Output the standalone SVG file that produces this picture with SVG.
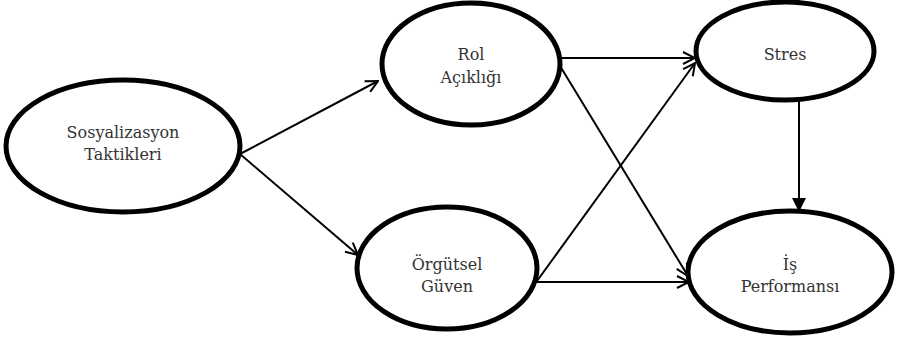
<svg xmlns="http://www.w3.org/2000/svg" width="897" height="340" viewBox="0 0 897 340">
<defs>
<style>
.node ellipse{fill:#fff;stroke:#000;stroke-width:5}
.node text{font-family:"DejaVu Serif","Liberation Serif",serif;font-size:16px;fill:#333;text-anchor:middle}
.edges line{stroke:#000;stroke-width:2;fill:none}
.open{marker-end:url(#openArrow)}
.filled{marker-end:url(#fillArrow)}
</style>
<marker id="openArrow" viewBox="0 0 14 14" refX="13" refY="7" markerWidth="14" markerHeight="14" markerUnits="userSpaceOnUse" orient="auto">
<path d="M1,1 L13,7 L1,13" fill="none" stroke="#000" stroke-width="2"/>
</marker>
<marker id="fillArrow" viewBox="0 0 14 14" refX="13" refY="7" markerWidth="14" markerHeight="14" markerUnits="userSpaceOnUse" orient="auto">
<path d="M0,0 L14,7 L0,14 Z" fill="#000"/>
</marker>
</defs>
<rect width="897" height="340" fill="#fff"/>
<g class="edges">
<line class="open" x1="240" y1="154" x2="378" y2="81"/>
<line class="open" x1="240" y1="154" x2="358" y2="255"/>
<line class="open" x1="558" y1="58" x2="695" y2="58"/>
<line class="open" x1="557" y1="61" x2="688" y2="276"/>
<line class="open" x1="537" y1="281" x2="695" y2="63"/>
<line class="open" x1="537" y1="282" x2="689" y2="282"/>
<line class="filled" x1="799" y1="100" x2="799" y2="211"/>
</g>
<g id="sosyalizasyon" class="node">
<ellipse cx="123" cy="146" rx="117" ry="66"/>
<text x="123" y="138">Sosyalizasyon</text>
<text x="123" y="160">Taktikleri</text>
</g>
<g id="rol" class="node">
<ellipse cx="471" cy="64" rx="89" ry="61"/>
<text x="471" y="60">Rol</text>
<text x="471" y="83">Açıklığı</text>
</g>
<g id="orgutsel" class="node">
<ellipse cx="447" cy="268" rx="90" ry="61"/>
<text x="447" y="270">Örgütsel</text>
<text x="447" y="292">Güven</text>
</g>
<g id="stres" class="node">
<ellipse cx="785" cy="51" rx="89" ry="49"/>
<text x="785" y="60">Stres</text>
</g>
<g id="is" class="node">
<ellipse cx="790" cy="272" rx="102" ry="61"/>
<text x="790" y="270">İş</text>
<text x="790" y="292">Performansı</text>
</g>
</svg>
